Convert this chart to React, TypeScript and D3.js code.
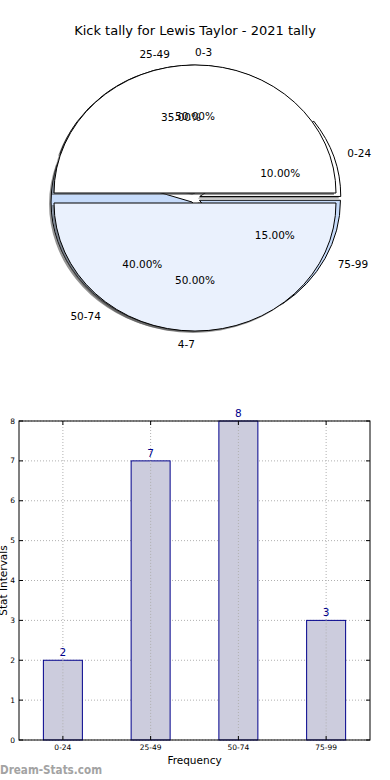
import * as d3 from "d3";

const title = "Kick tally for Lewis Taylor - 2021 tally";

// outer pie (two halves)
const outerLabels = ["0-3", "4-7"];
const outerValues = [10, 10];
const outerColors = ["#ffffff", "#eaf1fd"];

// inner pie / bar chart
const intervalLabels = ["0-24", "25-49", "50-74", "75-99"];
const intervalValues = [2, 7, 8, 3];
const intervalColors = ["#ffffff", "#ffffff", "#c6dbfa", "#c6dbfa"];

const yTicks = [0, 1, 2, 3, 4, 5, 6, 7, 8];

const W = 390;
const H = 780;
const FONT = "DejaVu Sans, sans-serif";

const cx = 195;
const cy = 198;
const rx = 141;
const ry = 128;
const explode = 5;

type Slice = {
  label: string;
  value: number;
  color: string;
  start: number;
  end: number;
  pct: number;
};

function makeSlices(labels: string[], values: number[], colors: string[]): Slice[] {
  const total = d3.sum(values);
  const pie = d3
    .pie<number>()
    .sort(null)
    .startAngle(Math.PI / 2)
    .endAngle(Math.PI / 2 - 2 * Math.PI);
  return pie(values).map((a, i) => ({
    label: labels[i],
    value: values[i],
    color: colors[i],
    start: a.startAngle,
    end: a.endAngle,
    pct: (values[i] / total) * 100,
  }));
}

const arcGen = d3.arc<any>().innerRadius(0).outerRadius(rx);

function offsetOf(s: Slice) {
  const mid = (s.start + s.end) / 2;
  return { dx: explode * Math.sin(mid), dy: -explode * Math.cos(mid), theta: Math.PI / 2 - mid };
}

function Wedges({ slices }: { slices: Slice[] }) {
  return (
    <g>
      {slices.map((s, i) => {
        const { dx, dy } = offsetOf(s);
        const d = arcGen({ startAngle: s.start, endAngle: s.end }) as string;
        return (
          <g key={"sh" + i} transform={`translate(${cx + dx - 2},${cy + dy + 2}) scale(1,${ry / rx})`}>
            <path d={d} fill="#4d4d4d" fillOpacity={0.6} stroke="none" />
          </g>
        );
      })}
      {slices.map((s, i) => {
        const { dx, dy } = offsetOf(s);
        const d = arcGen({ startAngle: s.start, endAngle: s.end }) as string;
        return (
          <g key={"w" + i} transform={`translate(${cx + dx},${cy + dy}) scale(1,${ry / rx})`}>
            <path d={d} fill={s.color} stroke="#000" strokeWidth={1} vectorEffect="non-scaling-stroke" strokeLinejoin="round" />
          </g>
        );
      })}
    </g>
  );
}

function PieTexts({ slices }: { slices: Slice[] }) {
  return (
    <g fontFamily={FONT} fontSize={10.5} fill="#000">
      {slices.map((s, i) => {
        const { dx, dy, theta } = offsetOf(s);
        const lx = cx + dx + 1.1 * rx * Math.cos(theta);
        const ly = cy + dy - 1.1 * ry * Math.sin(theta);
        const px = cx + dx + 0.6 * rx * Math.cos(theta);
        const py = cy + dy - 0.6 * ry * Math.sin(theta);
        return (
          <g key={i}>
            <text x={lx} y={ly} dominantBaseline="central" textAnchor={Math.cos(theta) > 0 ? "start" : "end"}>
              {s.label}
            </text>
            <text x={px} y={py} dominantBaseline="central" textAnchor="middle">
              {s.pct.toFixed(2)}%
            </text>
          </g>
        );
      })}
    </g>
  );
}

function BarChart() {
  const left = 19;
  const right = 370;
  const top = 421;
  const bottom = 740;
  const x = d3.scalePoint<string>().domain(intervalLabels).range([left, right]).padding(0.5);
  const y = d3.scaleLinear().domain([0, 8]).range([bottom, top]);
  const bw = 39;
  const grid = "#b0b0b0";
  return (
    <g fontFamily={FONT}>
      {yTicks.map((t) => (
        <line key={"gy" + t} x1={left} x2={right} y1={y(t)} y2={y(t)} stroke={grid} strokeDasharray="1,2" />
      ))}
      {intervalLabels.map((c) => (
        <line key={"gx" + c} x1={x(c)} x2={x(c)} y1={top} y2={bottom} stroke={grid} strokeDasharray="1,2" />
      ))}
      {intervalLabels.map((c, i) => (
        <g key={"b" + c}>
          <rect
            x={(x(c) as number) - bw / 2}
            y={y(intervalValues[i])}
            width={bw}
            height={bottom - y(intervalValues[i])}
            fill="#ccccdd"
            stroke="#00008b"
            strokeWidth={1}
          />
          <line x1={x(c)} x2={x(c)} y1={y(intervalValues[i])} y2={bottom} stroke={grid} strokeDasharray="1,2" />
          <text x={x(c)} y={y(intervalValues[i]) - 4} textAnchor="middle" fontSize={10.5} fill="#00008b">
            {intervalValues[i]}
          </text>
        </g>
      ))}
      <rect x={left} y={top} width={right - left} height={bottom - top} fill="none" stroke="#000" strokeWidth={1} />
      {yTicks.map((t) => (
        <g key={"ty" + t}>
          <line x1={left} x2={left + 4} y1={y(t)} y2={y(t)} stroke="#000" />
          <line x1={right - 4} x2={right} y1={y(t)} y2={y(t)} stroke="#000" />
          <text x={left - 4} y={y(t)} textAnchor="end" dominantBaseline="central" fontSize={7.5}>
            {t}
          </text>
        </g>
      ))}
      {intervalLabels.map((c) => (
        <g key={"tx" + c}>
          <line x1={x(c)} x2={x(c)} y1={bottom} y2={bottom - 4} stroke="#000" />
          <line x1={x(c)} x2={x(c)} y1={top} y2={top + 4} stroke="#000" />
          <text x={x(c)} y={bottom + 10} textAnchor="middle" fontSize={7.5}>
            {c}
          </text>
        </g>
      ))}
      <text x={(left + right) / 2} y={764} textAnchor="middle" fontSize={10.5}>
        Frequency
      </text>
      <text transform={`translate(7,${(top + bottom) / 2}) rotate(-90)`} textAnchor="middle" fontSize={10.5}>
        Stat Intervals
      </text>
    </g>
  );
}

export default function App() {
  const inner = makeSlices(intervalLabels, intervalValues, intervalColors);
  const outer = makeSlices(outerLabels, outerValues, outerColors);
  return (
    <div style={{ position: "absolute", left: 0, top: 0, width: W, height: H, background: "#fff" }}>
      <svg width={W} height={H} viewBox={`0 0 ${W} ${H}`} style={{ display: "block" }}>
        <rect width={W} height={H} fill="#fff" />
        <text x={195} y={34.5} textAnchor="middle" fontFamily={FONT} fontSize={13}>
          {title}
        </text>
        <Wedges slices={inner} />
        <Wedges slices={outer} />
        <PieTexts slices={inner} />
        <PieTexts slices={outer} />
        <BarChart />
        <text x={0} y={774} fontFamily={FONT} fontSize={12} fontWeight="bold" fill="#a3a3a3" textLength={102} lengthAdjust="spacingAndGlyphs">
          Dream-Stats.com
        </text>
      </svg>
    </div>
  );
}
